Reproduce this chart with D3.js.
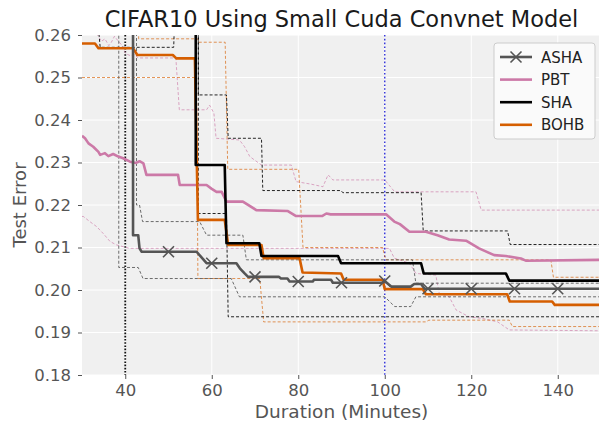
<!DOCTYPE html>
<html>
<head>
<meta charset="utf-8">
<script src="https://cdn.jsdelivr.net/npm/d3@7"></script>
<style>
  body { margin: 0; background: #fff; }
  svg { display: block; font-family: "DejaVu Sans", sans-serif; }
</style>
</head>
<body>
<svg id="chart" width="599" height="424"></svg>
<script>
// Values above the visible range (runs not yet finished); clipped by the plot area.
const OFF = 0.27;

const titleText = "CIFAR10 Using Small Cuda Convnet Model";
const xLabel = "Duration (Minutes)";
const yLabel = "Test Error";
const xDomain = [30, 150];
const yDomain = [0.18, 0.26];
const xTicks = [40, 60, 80, 100, 120, 140];
const yTicks = [0.18, 0.19, 0.20, 0.21, 0.22, 0.23, 0.24, 0.25, 0.26];
const refLineX = [40, 100];

const seriesNames = ["ASHA", "PBT", "SHA", "BOHB"];

// [minutes, test error]
const ashaMean = [[30,OFF],[41.8,OFF],[41.8,0.2129],[43.0,0.2129],[43.3,0.2098],[43.8,0.2090],[56.5,0.2090],[58.8,0.2063],[65.7,0.2063],[66.5,0.2051],[67.6,0.2039],[68.4,0.2031],[75.5,0.2031],[76,0.2027],[77.5,0.2027],[78,0.2020],[83.4,0.2020],[83.6,0.2024],[87.6,0.2024],[88,0.2017],[99.5,0.2017],[99.9,0.2022],[101.5,0.2008],[106,0.2008],[106.8,0.2014],[108.4,0.2014],[109.2,0.2003],[150,0.2003]];
const ashaUpper = [[30,OFF],[42.6,OFF],[42.6,0.2200],[43.3,0.2200],[44,0.2161],[57.2,0.2161],[58.8,0.2129],[67.2,0.2129],[68,0.2071],[106.4,0.2071],[107.2,0.2016],[150,0.2016]];
const ashaLower = [[30,OFF],[38.5,OFF],[38.5,0.2053],[43,0.2053],[44.1,0.2027],[64.5,0.2027],[66.4,0.1984],[100,0.1984],[102.3,0.1961],[106,0.1961],[107.2,0.1984],[150,0.1984]];
const ashaMarkerX = [50, 60, 70, 80, 90, 100, 110, 120, 130, 140];

const pbtMean = [[30,0.2363],[30.7,0.2357],[31.5,0.2345],[32.6,0.2337],[33.8,0.2325],[34.2,0.2318],[35.3,0.2322],[36.1,0.2315],[37.2,0.2320],[38.4,0.2314],[39.5,0.2310],[41.1,0.2302],[42.5,0.2299],[43.3,0.2303],[44.2,0.2298],[44.9,0.2271],[52.2,0.2271],[52.6,0.2247],[58.8,0.2247],[60,0.2238],[61.1,0.2231],[62.3,0.2231],[63.4,0.2208],[67.2,0.2208],[70.3,0.2188],[77.5,0.2186],[79.5,0.2174],[85.5,0.2174],[86.5,0.2180],[87.5,0.2178],[100.3,0.2178],[102.2,0.2161],[103.5,0.2155],[105.7,0.2137],[109.5,0.2137],[112.2,0.2129],[114.9,0.2119],[118.8,0.2116],[121.8,0.2098],[125.3,0.2082],[128,0.2080],[131.5,0.2074],[132.6,0.2069],[150,0.2071]];
const pbtUpper = [[30,OFF],[33.3,OFF],[33.6,0.2600],[34.5,0.2585],[35.3,0.2591],[36.2,0.2575],[36.8,0.2583],[37.5,0.2597],[38.2,0.2588],[39.3,0.2575],[40.1,0.2556],[41.3,0.2551],[42,0.2555],[43,0.2546],[51.7,0.2546],[52.5,0.2424],[58.8,0.2424],[59.5,0.2435],[60.5,0.2416],[61,0.2357],[66.4,0.2353],[67.6,0.2337],[68.8,0.2314],[71.5,0.2294],[78.4,0.2294],[79.5,0.2255],[83,0.2249],[85.7,0.2243],[86.9,0.2271],[88,0.2259],[100,0.2259],[102.3,0.2231],[121.1,0.2231],[122.3,0.2188],[150,0.2188]];
const pbtLower = [[30,0.2173],[30.3,0.2173],[31.8,0.2161],[33.4,0.2149],[34.9,0.2133],[36.5,0.2114],[38,0.2106],[39.5,0.2102],[41,0.2098],[101.1,0.2098],[102.2,0.2075],[105.7,0.2063],[107.2,0.2039],[111.8,0.2035],[112.6,0.1992],[114.9,0.1984],[116.5,0.1953],[119.5,0.1937],[122.6,0.1933],[126.1,0.1925],[128.8,0.1906],[150,0.1904]];

const shaMean = [[30,OFF],[56.3,OFF],[56.3,0.2294],[63,0.2294],[63.4,0.2110],[71,0.2110],[71.5,0.2080],[89.2,0.2080],[89.9,0.2063],[108.4,0.2063],[109,0.2039],[128,0.2039],[128.8,0.2022],[150,0.2022]];
const shaUpper = [[30,OFF],[56.9,OFF],[56.9,0.2459],[63.4,0.2459],[63.8,0.2357],[71.5,0.2357],[71.8,0.2234],[89.9,0.2234],[90.3,0.2229],[108.4,0.2229],[108.9,0.2139],[128.4,0.2139],[129,0.2107],[150,0.2107]];
const shaLower = [[30,OFF],[33.1,OFF],[34.2,0.2571],[51.2,0.2571],[51.6,OFF],[56.9,OFF],[56.9,0.2180],[63.4,0.2180],[63.8,0.1937],[150,0.1937]];

const bohbMean = [[30,0.2580],[33,0.2580],[33.8,0.2569],[41.8,0.2569],[42.8,0.2553],[51,0.2553],[51.8,0.2545],[56.1,0.2545],[56.8,0.2165],[63,0.2165],[63.8,0.2106],[71.5,0.2106],[72,0.2075],[80.3,0.2075],[81,0.2041],[89.9,0.2039],[90.5,0.2024],[99.5,0.2024],[100,0.2002],[108.8,0.2002],[109.5,0.1990],[128.3,0.1990],[128.9,0.1973],[138.7,0.1973],[139.3,0.1965],[150,0.1965]];
const bohbUpper = [[30,OFF],[43,OFF],[43.1,0.2591],[56.7,0.2591],[57,0.2583],[63.1,0.2583],[63.7,0.2284],[80.1,0.2284],[81.1,0.2100],[99.5,0.2100],[100.2,0.2071],[138.4,0.2071],[139,0.2030],[150,0.2030]];
const bohbLower = [[30,0.2500],[56.5,0.2500],[56.8,0.2027],[71.1,0.2027],[72,0.1925],[109.5,0.1925],[110.2,0.1929],[128.8,0.1929],[129.5,0.1914],[150,0.1914]];

// ---- layout & styles ----
const plot = { left: 82, right: 601, top: 35, bottom: 375 };
const colors = { ASHA: "#555555", PBT: "#cc79a7", SHA: "#000000", BOHB: "#d55e00" };
const textColor = "#555555";

const svg = d3.select("#chart");
const x = d3.scaleLinear().domain(xDomain).range([plot.left, plot.right]);
const y = d3.scaleLinear().domain(yDomain).range([plot.bottom, plot.top]);

svg.append("defs").append("clipPath").attr("id", "plotClip")
  .append("rect")
  .attr("x", plot.left).attr("y", plot.top)
  .attr("width", plot.right - plot.left).attr("height", plot.bottom - plot.top);

// panel background
svg.append("rect")
  .attr("x", plot.left).attr("y", plot.top)
  .attr("width", plot.right - plot.left).attr("height", plot.bottom - plot.top)
  .attr("fill", "#f0f0f0");

// grid
const grid = svg.append("g");
grid.selectAll("line.gx").data(xTicks).join("line")
  .attr("x1", d => x(d)).attr("x2", d => x(d))
  .attr("y1", plot.top).attr("y2", plot.bottom)
  .attr("stroke", "#fff").attr("stroke-width", 1);
grid.selectAll("line.gy").data(yTicks).join("line")
  .attr("x1", plot.left).attr("x2", plot.right)
  .attr("y1", d => y(d)).attr("y2", d => y(d))
  .attr("stroke", "#fff").attr("stroke-width", 1);

// axes
const xAxis = svg.append("g")
  .attr("transform", `translate(0,${plot.bottom})`)
  .call(d3.axisBottom(x).tickValues(xTicks).tickSize(4).tickPadding(5).tickFormat(d3.format("d")));
const yAxis = svg.append("g")
  .attr("transform", `translate(${plot.left},0)`)
  .call(d3.axisLeft(y).tickValues(yTicks).tickSize(4).tickPadding(7).tickFormat(d3.format(".2f")));
[xAxis, yAxis].forEach(a => {
  a.select(".domain").remove();
  a.selectAll(".tick line").attr("stroke", textColor).attr("stroke-width", 1);
  a.selectAll(".tick text").attr("fill", textColor)
    .style("font-family", "DejaVu Sans, sans-serif").style("font-size", "16.5px");
});

const area = svg.append("g").attr("clip-path", "url(#plotClip)");
const line = d3.line().x(d => x(d[0])).y(d => y(d[1]));

// reference verticals
area.append("line")
  .attr("x1", x(refLineX[0])).attr("x2", x(refLineX[0]))
  .attr("y1", plot.top).attr("y2", plot.bottom)
  .attr("stroke", "#111").attr("stroke-width", 1.8).attr("stroke-dasharray", "1.6,1.6");
area.append("line")
  .attr("x1", x(refLineX[1])).attr("x2", x(refLineX[1]))
  .attr("y1", plot.top).attr("y2", plot.bottom)
  .attr("stroke", "#3030d8").attr("stroke-width", 1.4).attr("stroke-dasharray", "1.6,2.2");

// spread bands drawn as thin dashed lines
const bounds = [
  ["PBT", pbtUpper], ["PBT", pbtLower],
  ["BOHB", bohbUpper], ["BOHB", bohbLower],
  ["ASHA", ashaUpper], ["ASHA", ashaLower],
  ["SHA", shaUpper], ["SHA", shaLower]
];
bounds.forEach(([name, data]) => {
  area.append("path").datum(data)
    .attr("d", line)
    .attr("fill", "none")
    .attr("stroke", colors[name])
    .attr("stroke-opacity", name === "PBT" || name === "BOHB" ? 0.65 : 0.85)
    .attr("stroke-width", 1)
    .attr("stroke-dasharray", "3,2");
});

// mean curves
const means = [["PBT", pbtMean], ["BOHB", bohbMean], ["SHA", shaMean], ["ASHA", ashaMean]];
means.forEach(([name, data]) => {
  area.append("path").datum(data)
    .attr("d", line)
    .attr("fill", "none")
    .attr("stroke", colors[name])
    .attr("stroke-width", 2.6)
    .attr("stroke-linejoin", "round");
});

// ASHA markers placed on its curve
function valueAt(data, xv) {
  for (let i = 1; i < data.length; i++) {
    const [x0, y0] = data[i - 1], [x1, y1] = data[i];
    if (xv >= x0 && xv <= x1) {
      return x1 === x0 ? y1 : y0 + (y1 - y0) * (xv - x0) / (x1 - x0);
    }
  }
  return data[data.length - 1][1];
}
const m = 5.5;
const markers = area.selectAll("g.mk").data(ashaMarkerX).join("g")
  .attr("transform", d => `translate(${x(d)},${y(valueAt(ashaMean, d))})`);
markers.append("path")
  .attr("d", `M${-m},${-m}L${m},${m}M${-m},${m}L${m},${-m}`)
  .attr("stroke", colors.ASHA).attr("stroke-width", 1.6).attr("fill", "none");

// title and axis labels
svg.append("text")
  .attr("x", (plot.left + plot.right) / 2).attr("y", 27)
  .attr("text-anchor", "middle")
  .style("font-size", "22.5px").attr("fill", "#1a1a1a")
  .text(titleText);
svg.append("text")
  .attr("x", (plot.left + plot.right) / 2).attr("y", 418)
  .attr("text-anchor", "middle")
  .style("font-size", "18.5px").attr("fill", textColor)
  .text(xLabel);
svg.append("text")
  .attr("transform", `translate(26,${(plot.top + plot.bottom) / 2}) rotate(-90)`)
  .attr("text-anchor", "middle")
  .style("font-size", "18px").attr("fill", textColor)
  .text(yLabel);

// legend
const legend = svg.append("g").attr("transform", "translate(494,43)");
legend.append("rect")
  .attr("width", 101).attr("height", 96).attr("rx", 3)
  .attr("fill", "#fafafa").attr("stroke", "#cccccc").attr("stroke-width", 1);
const rows = legend.selectAll("g.row").data(seriesNames).join("g")
  .attr("transform", (d, i) => `translate(0,${14 + i * 22.6})`);
rows.append("line")
  .attr("x1", 6).attr("x2", 38).attr("y1", 0).attr("y2", 0)
  .attr("stroke", d => colors[d]).attr("stroke-width", 2.6);
rows.filter(d => d === "ASHA").append("path")
  .attr("d", `M${22 - m},${-m}L${22 + m},${m}M${22 - m},${m}L${22 + m},${-m}`)
  .attr("stroke", colors.ASHA).attr("stroke-width", 1.6);
rows.append("text")
  .attr("x", 47).attr("y", 5.5)
  .style("font-size", "15px").attr("fill", "#222")
  .text(d => d);
</script>
</body>
</html>
